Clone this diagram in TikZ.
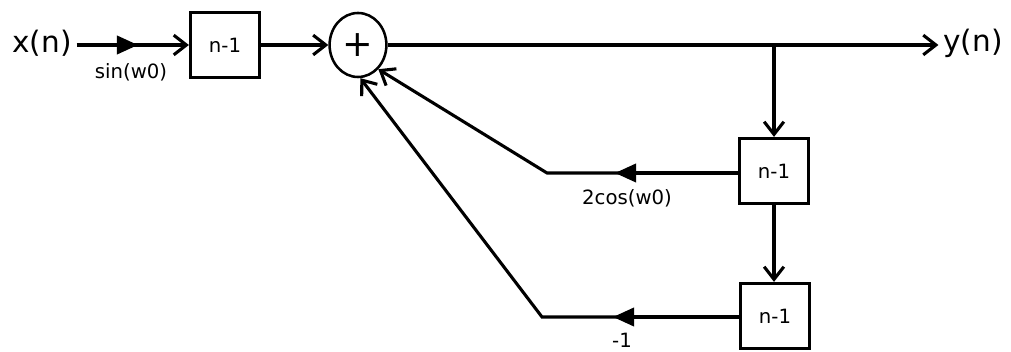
\documentclass[tikz,border=0pt]{standalone}
\usepackage{fontspec}
\setmainfont{DejaVu Sans}
\usepackage{tikz}
\usetikzlibrary{shapes.geometric, arrows.meta, positioning, calc}
\tikzstyle{delay} = [rectangle, draw=black, line width=2.4pt, minimum width=1.72cm,
    minimum height=1.62cm, text centered, font=\fontsize{14}{16}\selectfont]
\tikzstyle{adder} = [ellipse, draw=black, line width=1.8pt, minimum width=1.42cm,
    minimum height=1.6cm, inner sep=0pt, font=\fontsize{26}{28}\selectfont]
\tikzstyle{sig} = [font=\fontsize{21}{24}\selectfont]
\tikzstyle{gainlabel} = [font=\fontsize{14}{16}\selectfont]
\tikzstyle{arrow} = [line width=2.2pt,->,>={Straight Barb[length=9pt,width=14pt]}]
\tikzstyle{gain} = [line width=2.2pt,-{Triangle[length=15pt,width=13pt]}]

\begin{document}
\begin{tikzpicture}[x=0.025cm, y=-0.025cm]
  \useasboundingbox (0,0) rectangle (1011,352);
  \node[sig](xin) at (42,43){x(n)};
  \node[delay](d0) at (225,45){n-1};
  \node[adder](sum) at (358,45){+};
  \node[sig](yout) at (973,43){y(n)};
  \node[delay](d1) at (774,171){n-1};
  \node[delay](d2) at (775,316){n-1};

  \coordinate (g0) at (138,45);
  \coordinate (g1) at (615,173);
  \coordinate (g2) at (613,317);
  \coordinate (k1) at (547,173);
  \coordinate (k2) at (542,317);
  \coordinate (br) at (774,45);

  \node[gainlabel](l0) at (131,72){sin(w0)};
  \node[gainlabel](l1) at (627,198){2cos(w0)};
  \node[gainlabel](l2) at (622,340){-1};

  \draw[gain](xin.east|-g0)--(g0);
  \draw[arrow, shorten <=-4pt](g0)--(d0);
  \draw[arrow](d0)--(sum);
  \draw[arrow](sum.east)--(sum.east-|yout.west);
  \draw[arrow](br)--(d1);
  \draw[arrow](d1)--(d1.south|-d2.north);
  \draw[gain](d1.west|-g1)--(g1);
  \draw[arrow, shorten <=-4pt](g1)--(k1)--(sum.-50);
  \draw[gain](d2.west|-g2)--(g2);
  \draw[arrow, shorten <=-4pt](g2)--(k2)--(sum.-86);
\end{tikzpicture}
\end{document}
